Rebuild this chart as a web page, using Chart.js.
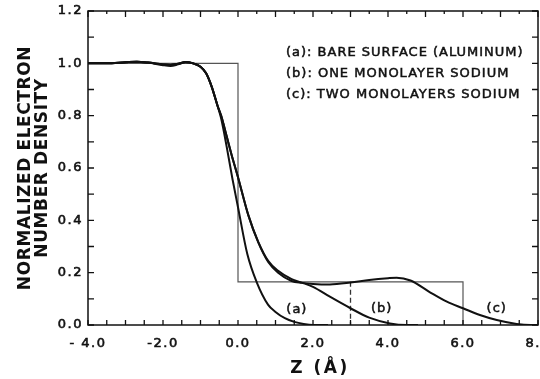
<!DOCTYPE html>
<html>
<head>
<meta charset="utf-8">
<script src="https://cdn.jsdelivr.net/npm/chart.js@4"></script>
<style>
  html, body { margin: 0; padding: 0; background: #fff; }
  canvas { display: block; }
</style>
</head>
<body>
<canvas id="densityChart" width="540" height="379"></canvas>
<script>
// curve (a): bare surface (aluminum)
const zA = [-4.0, -3.5, -3.0, -2.7, -2.4, -2.0, -1.8, -1.6, -1.4, -1.2, -1.0, -0.85, -0.7, -0.55, -0.45, -0.3, -0.15, 0.0, 0.25, 0.5, 0.8, 1.0, 1.25, 1.5, 1.75, 2.0, 2.4];
const nA = [1.0, 1.0, 1.004, 1.006, 1.003, 0.993, 0.99, 0.996, 1.004, 1.0, 0.987, 0.962, 0.91, 0.84, 0.79, 0.68, 0.56, 0.45, 0.27, 0.163, 0.078, 0.05, 0.026, 0.012, 0.004, 0.0, 0.0];
// curve (b): one monolayer sodium
const zB = [-4.0, -3.5, -3.0, -2.7, -2.4, -2.0, -1.8, -1.6, -1.4, -1.2, -1.0, -0.85, -0.7, -0.55, -0.45, -0.3, -0.17, 0.0, 0.275, 0.54, 0.81, 1.07, 1.43, 1.7, 2.0, 2.45, 3.0, 3.5, 4.05, 4.5, 4.8];
const nB = [1.0, 1.0, 1.004, 1.006, 1.003, 0.996, 0.994, 0.998, 1.005, 1.0, 0.987, 0.962, 0.91, 0.84, 0.8, 0.72, 0.65, 0.565, 0.42, 0.318, 0.244, 0.207, 0.175, 0.162, 0.146, 0.108, 0.064, 0.028, 0.006, 0.0, 0.0];
// curve (c): two monolayers sodium
const zC = [-4.0, -3.5, -3.0, -2.7, -2.4, -2.0, -1.8, -1.6, -1.4, -1.2, -1.0, -0.85, -0.7, -0.55, -0.45, -0.3, -0.17, 0.0, 0.275, 0.54, 0.81, 1.07, 1.43, 1.7, 2.0, 2.45, 3.0, 3.5, 4.0, 4.23, 4.6, 5.12, 5.57, 6.0, 6.45, 6.9, 7.43, 7.8, 8.0];
const nC = [1.0, 1.0, 1.004, 1.006, 1.003, 0.996, 0.994, 0.998, 1.005, 1.0, 0.987, 0.962, 0.91, 0.84, 0.8, 0.72, 0.65, 0.565, 0.42, 0.316, 0.24, 0.2, 0.168, 0.161, 0.157, 0.155, 0.162, 0.172, 0.179, 0.181, 0.17, 0.125, 0.089, 0.064, 0.038, 0.019, 0.004, 0.0, 0.0];

// jellium step profiles
const stepZ = [-4.0, 0.0, 0.0, 6.0, 6.0];
const stepN = [1.0, 1.0, 0.165, 0.165, 0.0];
const dashZ = [3.0, 3.0];
const dashN = [0.165, 0.0];

const xTickValues = [-4, -2, 0, 2, 4, 6, 8];
const xTickLabels = ['- 4.0', '-2.0', '0.0', '2.0', '4.0', '6.0', '8.0'];
const yTickValues = [1.2, 1.0, 0.8, 0.6, 0.4, 0.2, 0.0];
const yTickLabels = ['1.2', '1.0', '0.8', '0.6', '0.4', '0.2', '0.0'];

const legendLines = ['(a): BARE SURFACE (ALUMINUM)', '(b): ONE MONOLAYER SODIUM', '(c): TWO MONOLAYERS SODIUM'];
const curveTags = ['(a)', '(b)', '(c)'];
const curveTagZ = [1.57, 3.83, 6.9];
const curveTagN = [0.057, 0.064, 0.064];

const yTitle = ['NORMALIZED ELECTRON', 'NUMBER DENSITY'];
const xTitle = 'Z (Å)';

function pts(xs, ys) {
    return xs.map((x, i) => ({ x: x, y: ys[i] }));
}

const curveStyle = {
    borderColor: '#111',
    borderWidth: 2,
    pointRadius: 0,
    fill: false,
    cubicInterpolationMode: 'monotone'
};

// fill + thin stroke, to get the heavier printed look
function inkText(ctx, t, x, y, w) {
    ctx.fillText(t, x, y);
    ctx.lineWidth = w;
    ctx.strokeText(t, x, y);
}

const decorations = {
    id: 'decorations',
    afterDraw(chart) {
        const ctx = chart.ctx;
        const xs = chart.scales.x;
        const ys = chart.scales.y;
        const a = chart.chartArea;
        ctx.save();

        // frame
        ctx.strokeStyle = '#111';
        ctx.lineWidth = 1.5;
        ctx.strokeRect(a.left, a.top, a.right - a.left, a.bottom - a.top);

        // inward ticks
        ctx.lineWidth = 1.3;
        ctx.beginPath();
        for (let v = -4; v <= 8.001; v += 0.5) {
            const px = xs.getPixelForValue(v);
            const major = Math.abs(v - Math.round(v)) < 0.01;
            ctx.moveTo(px, a.bottom);
            ctx.lineTo(px, a.bottom - 5);
            ctx.moveTo(px, a.top);
            ctx.lineTo(px, a.top + (major ? 6 : 3));
        }
        for (let v = 0; v <= 1.201; v += 0.1) {
            const py = ys.getPixelForValue(v);
            ctx.moveTo(a.left, py);
            ctx.lineTo(a.left + 6, py);
            ctx.moveTo(a.right, py);
            ctx.lineTo(a.right - 6, py);
        }
        ctx.stroke();

        // tick labels
        ctx.fillStyle = '#111';
        ctx.font = '13px "DejaVu Sans"';
        ctx.letterSpacing = '1.5px';
        ctx.textBaseline = 'middle';
        ctx.textAlign = 'center';
        xTickValues.forEach((v, i) => {
            inkText(ctx, xTickLabels[i], xs.getPixelForValue(v), a.bottom + 19, 0.6);
        });
        ctx.textAlign = 'right';
        yTickValues.forEach((v, i) => {
            inkText(ctx, yTickLabels[i], a.left - 5, ys.getPixelForValue(v), 0.6);
        });

        // curve tags
        ctx.letterSpacing = '1px';
        ctx.textAlign = 'center';
        curveTags.forEach((t, i) => {
            inkText(ctx, t, xs.getPixelForValue(curveTagZ[i]), ys.getPixelForValue(curveTagN[i]), 0.5);
        });

        // legend text
        ctx.textAlign = 'left';
        legendLines.forEach((t, i) => {
            inkText(ctx, t, 286, a.top + 42 + i * 21, 0.5);
        });

        // axis titles
        ctx.font = 'bold 17px "DejaVu Sans"';
        ctx.letterSpacing = '0.6px';
        ctx.textAlign = 'center';
        ctx.save();
        ctx.translate(26, (a.top + a.bottom) / 2);
        ctx.rotate(-Math.PI / 2);
        ctx.fillText(yTitle[0], 0, 0);
        ctx.fillText(yTitle[1], 0, 17);
        ctx.restore();

        ctx.letterSpacing = '2.5px';
        ctx.textBaseline = 'alphabetic';
        ctx.fillText(xTitle, 320, 373);
        ctx.restore();
    }
};

const chart = new Chart(document.getElementById('densityChart').getContext('2d'), {
    type: 'line',
    data: {
        datasets: [
            Object.assign({ label: 'a', data: pts(zA, nA) }, curveStyle),
            Object.assign({ label: 'b', data: pts(zB, nB) }, curveStyle),
            Object.assign({ label: 'c', data: pts(zC, nC) }, curveStyle),
            {
                label: 'step',
                data: pts(stepZ, stepN),
                borderColor: '#555',
                borderWidth: 1.2,
                pointRadius: 0,
                tension: 0,
                fill: false
            },
            {
                label: 'step2',
                data: pts(dashZ, dashN),
                borderColor: '#333',
                borderWidth: 1.3,
                borderDash: [5, 3],
                pointRadius: 0,
                tension: 0,
                fill: false
            }
        ]
    },
    options: {
        responsive: false,
        devicePixelRatio: 1,
        animation: false,
        layout: { padding: { top: 11, right: 2, left: 0, bottom: 0 } },
        plugins: { legend: { display: false }, tooltip: { enabled: false } },
        scales: {
            x: {
                type: 'linear',
                min: -4,
                max: 8,
                ticks: { display: false },
                grid: { display: false },
                border: { display: false },
                afterFit(s) { s.height = 54; }
            },
            y: {
                min: 0,
                max: 1.2,
                ticks: { display: false },
                grid: { display: false },
                border: { display: false },
                afterFit(s) { s.width = 88; }
            }
        }
    },
    plugins: [decorations]
});
</script>
</body>
</html>
